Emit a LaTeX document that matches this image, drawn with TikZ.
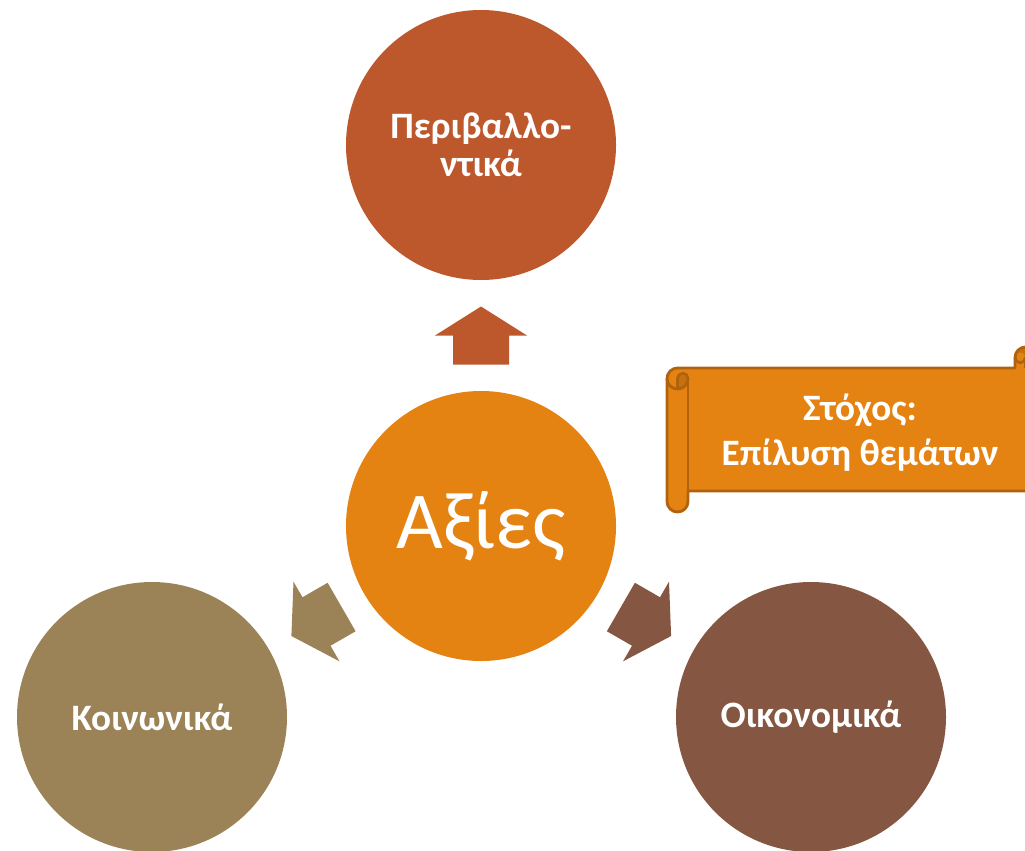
\documentclass[tikz,border=0pt]{standalone}
\usepackage{fontspec}
\setmainfont{Carlito}
\usetikzlibrary{calc}
\definecolor{envred}{HTML}{BD582C}
\definecolor{coreorange}{HTML}{E48312}
\definecolor{socialtan}{HTML}{9B8357}
\definecolor{econbrown}{HTML}{855641}
\definecolor{scrolledge}{HTML}{B0620F}
\definecolor{scrollshade}{HTML}{C8700F}

\begin{document}
\begin{tikzpicture}

\tikzstyle{valuecircle} = [circle,minimum size=5.4cm,inner sep=0,text=white,align=center,font=\bfseries\fontsize{21.2}{21.6}\selectfont]
\tikzstyle{scrolline} = [draw=scrolledge,line width=1.6pt,line join=round]

\clip (0,0) rectangle (20.5,-17);

\node [valuecircle,fill=envred] (env) at (9.62,-2.9) {Περιβαλλο-\\ντικά};
\node [valuecircle,fill=coreorange,font=\fontsize{46}{54}\selectfont] (core) at (9.62,-10.52) {Αξίες};
\node [valuecircle,fill=socialtan] (social) at (3.04,-14.34) {Κοινωνικά};
\node [valuecircle,fill=econbrown] (econ) at (16.22,-14.34) {Οικονομικά};

% block arrows, head base half way between the centres
\fill [envred,shift={($(core)!0.5!(env)$)},rotate=90] (0.58,0) -- (0,0.92) -- (0,0.56) -- (-0.58,0.56) -- (-0.58,-0.56) -- (0,-0.56) -- (0,-0.92) -- cycle;
\fill [socialtan,shift={($(core)!0.5!(social)$)},rotate=210] (0.58,0) -- (0,0.92) -- (0,0.56) -- (-0.58,0.56) -- (-0.58,-0.56) -- (0,-0.56) -- (0,-0.92) -- cycle;
\fill [econbrown,shift={($(core)!0.5!(econ)$)},rotate=-30] (0.58,0) -- (0,0.92) -- (0,0.56) -- (-0.58,0.56) -- (-0.58,-0.56) -- (0,-0.56) -- (0,-0.92) -- cycle;

% scroll
\fill [coreorange] (13.34,-7.57) arc (180:90:0.21) -- (20.30,-7.36) -- (20.30,-7.15) arc (180:0:0.21) -- (20.72,-9.61) arc (0:-90:0.21) -- (13.76,-9.82) -- (13.76,-10.03) arc (0:-180:0.21) -- cycle;
\fill [scrollshade] (13.55,-7.78) arc (-90:0:0.21) arc (0:180:0.105) -- cycle;
\fill [scrollshade] (20.51,-7.36) arc (-90:180:0.21) arc (180:0:0.105) -- cycle;
\draw [scrolline] (13.34,-7.57) arc (180:90:0.21) -- (20.30,-7.36) -- (20.30,-7.15) arc (180:0:0.21) -- (20.72,-9.61) arc (0:-90:0.21) -- (13.76,-9.82) -- (13.76,-10.03) arc (0:-180:0.21) -- cycle;
\draw [scrolline] (13.55,-7.78) -- (13.55,-7.57) arc (180:0:0.105) arc (0:-180:0.21);
\draw [scrolline] (13.76,-7.57) -- (13.76,-9.82);
\draw [scrolline] (20.51,-7.36) -- (20.51,-7.15) arc (0:-180:0.105);

\node [text=white,align=center,font=\bfseries\fontsize{21.2}{25.6}\selectfont] (goal) at (17.2,-8.66) {Στόχος:\\Επίλυση θεμάτων};

\end{tikzpicture}
\end{document}
